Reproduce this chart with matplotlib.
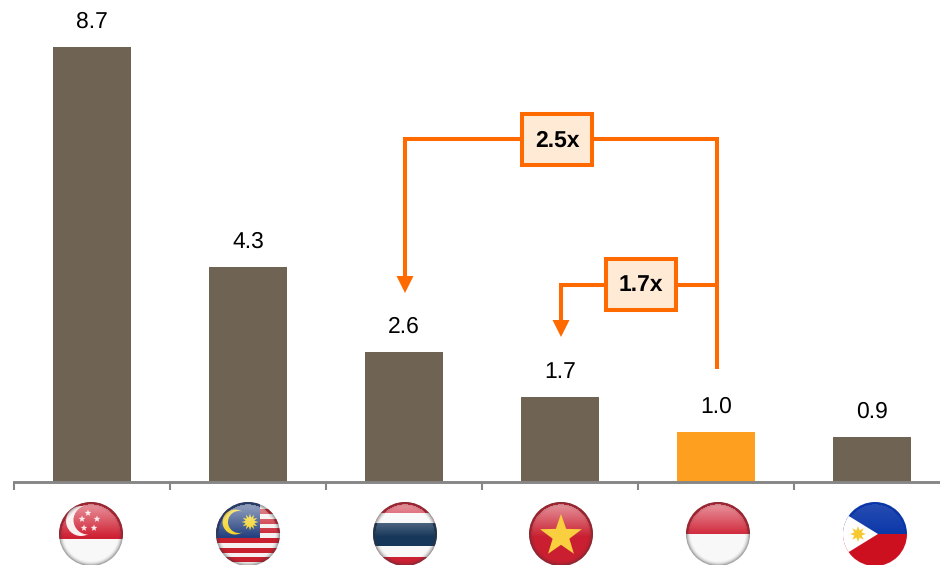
"""Bar chart of six country values, with multiple brackets and round flag badges."""

import matplotlib

matplotlib.use("Agg")

import matplotlib.pyplot as plt
import numpy as np
from matplotlib.patches import Circle, Polygon, Rectangle

plt.rcParams["font.family"] = ["Liberation Sans", "DejaVu Sans"]
plt.rcParams["text.hinting"] = "none"

countries = ["Singapore", "Malaysia", "Thailand", "Vietnam", "Indonesia", "Philippines"]
values = [8.7, 4.3, 2.6, 1.7, 1.0, 0.9]
highlight = "Indonesia"
multiples = ["2.5x", "1.7x"]

BROWN = "#6F6454"
AMBER = "#FF9F1F"
ORANGE = "#FF6A00"
AXIS_GREY = "#868686"
FLAG_R = 32
FLAG_Y = 534


def star_points(cx, cy, r_out, r_in, n=5, rot=-90):
    angles = np.radians(rot + np.arange(2 * n) * 180 / n)
    radii = np.where(np.arange(2 * n) % 2 == 0, r_out, r_in)
    return np.column_stack([cx + radii * np.cos(angles), cy + radii * np.sin(angles)])


def add_clipped(ax, clip, patch):
    ax.add_patch(patch)
    patch.set_clip_path(clip)
    return patch


def band(ax, clip, cx, y0, y1, color):
    add_clipped(ax, clip, Rectangle((cx - FLAG_R, y0), 2 * FLAG_R, y1 - y0, fc=color, ec="none"))


def draw_singapore(ax, clip, cx, cy):
    band(ax, clip, cx, cy - FLAG_R, cy + 5, "#CF2033")
    band(ax, clip, cx, cy + 5, cy + FLAG_R, "#F8F8F8")
    add_clipped(ax, clip, Circle((cx - 10, cy - 13), 15, fc="#FBEFEF", ec="none"))
    add_clipped(ax, clip, Circle((cx - 3, cy - 14), 14.5, fc="#CF2033", ec="none"))
    for dx, dy in [(-3, -21), (-9, -15), (6, -15), (-7, -6), (3, -6)]:
        add_clipped(ax, clip, Polygon(star_points(cx + dx, cy + dy, 3.5, 1.5), fc="#FBE4E6", ec="none"))


def draw_malaysia(ax, clip, cx, cy):
    band(ax, clip, cx, cy - FLAG_R, cy + FLAG_R, "#F6F0F0")
    for k in range(-3, 3):
        y0 = cy + 4 + k * 9.7
        band(ax, clip, cx, y0, y0 + 5, "#C8202F")
    add_clipped(ax, clip, Rectangle((cx - FLAG_R, cy - FLAG_R), FLAG_R + 12, 36, fc="#24407F", ec="none"))
    add_clipped(ax, clip, Circle((cx - 13, cy - 12), 12.5, fc="#F4D21F", ec="none"))
    add_clipped(ax, clip, Circle((cx - 9, cy - 12), 11, fc="#24407F", ec="none"))
    add_clipped(ax, clip, Polygon(star_points(cx + 2, cy - 12, 8.5, 4.5, n=12), fc="#F4D21F", ec="none"))


def draw_thailand(ax, clip, cx, cy):
    band(ax, clip, cx, cy - FLAG_R, cy + FLAG_R, "#CC2033")
    band(ax, clip, cx, cy - 21, cy + 23, "#F8F8F8")
    band(ax, clip, cx, cy - 11, cy + 12, "#17375A")


def draw_vietnam(ax, clip, cx, cy):
    band(ax, clip, cx, cy - FLAG_R, cy + FLAG_R, "#C91F30")
    star = Polygon(star_points(cx, cy + 2, 22, 8.8), fc="#F9CF3F", ec="none", zorder=3.5)
    add_clipped(ax, clip, star)


def draw_indonesia(ax, clip, cx, cy):
    band(ax, clip, cx, cy - FLAG_R, cy, "#CF2033")
    band(ax, clip, cx, cy, cy + FLAG_R, "#F8F8F8")


def draw_philippines(ax, clip, cx, cy):
    band(ax, clip, cx, cy - FLAG_R, cy, "#0A36A8")
    band(ax, clip, cx, cy, cy + FLAG_R, "#CC1020")
    add_clipped(
        ax,
        clip,
        Polygon([(cx - 36, cy - 24), (cx + 3, cy), (cx - 36, cy + 24)], fc="white", ec="none"),
    )
    add_clipped(ax, clip, Polygon(star_points(cx - 17, cy, 8, 4, n=8), fc="#F7C92E", ec="none"))


def add_gloss(ax, clip, cx, cy, sheen_amount=0.55, rim_amount=0.45):
    # Sheen on the upper half and a dark rim, each an RGBA layer over the flag.
    n = 2 * FLAG_R
    yy, xx = np.mgrid[-1:1:n * 1j, -1:1:n * 1j]
    rr = np.hypot(xx, yy)
    layers = [
        (1.0, np.clip(sheen_amount * (0.1 - yy) / 1.1, 0, 1) * (rr < 0.94)),
        (0.2, np.clip((rr - 0.84) / 0.16, 0, 1) ** 2 * rim_amount),
    ]
    for shade, alpha in layers:
        rgba = np.zeros((n, n, 4))
        rgba[..., :3] = shade
        rgba[..., 3] = alpha
        ax.imshow(
            rgba,
            extent=(cx - FLAG_R, cx + FLAG_R, cy + FLAG_R, cy - FLAG_R),
            zorder=3,
            clip_path=clip,
            interpolation="bilinear",
        )


def draw_bracket(ax, path, tip_w, tip_h):
    xs, ys = zip(*path)
    ax.plot(xs, ys, color=ORANGE, lw=2.9, solid_joinstyle="miter", solid_capstyle="butt", zorder=4)
    x_end, y_end = path[-1]
    ax.add_patch(
        Polygon(
            [(x_end - tip_w, y_end), (x_end + tip_w, y_end), (x_end, y_end + tip_h)],
            fc=ORANGE,
            ec="none",
            zorder=4,
        )
    )


def draw_badge(ax, x0, y0, w, h, label):
    ax.add_patch(Rectangle((x0, y0), w, h, fc="#FFEBD5", ec=ORANGE, lw=2.9, zorder=5))
    ax.text(
        x0 + w / 2,
        y0 + h / 2 + 1,
        label,
        ha="center",
        va="center",
        fontsize=16.5,
        fontweight="bold",
        color="black",
        zorder=6,
    )


fig = plt.figure(figsize=(9.4, 5.65), dpi=100, facecolor="white")

# bars: category spacing 156 px, 50 px per unit
ax = fig.add_axes([14 / 940, (565 - 482) / 565, 926 / 940, 482 / 565])
positions = np.arange(len(countries))
colors = [AMBER if c == highlight else BROWN for c in countries]
ax.bar(positions, values, width=0.5, color=colors, zorder=2)
for pos, val in zip(positions, values):
    ax.annotate(
        f"{val:.1f}",
        (pos, val),
        xytext=(0, 25),
        textcoords="offset pixels",
        ha="center",
        va="center",
        fontsize=16.5,
        color="black",
    )
ax.set_xlim(-0.5, 926 / 156 - 0.5)
ax.set_ylim(0, 9.64)
ax.set_yticks([])
ax.set_xticks(positions - 0.5)
ax.set_xticklabels([])
ax.tick_params(axis="x", length=5.5, width=1.5, color=AXIS_GREY)
for side in ("top", "left", "right"):
    ax.spines[side].set_visible(False)
ax.spines["bottom"].set_color(AXIS_GREY)
ax.spines["bottom"].set_linewidth(2.1)
ax.spines["bottom"].set_zorder(3)

# annotation layer in figure pixels
ov = fig.add_axes([0, 0, 1, 1], facecolor="none")
ov.set_axis_off()

draw_bracket(ov, [(717, 369), (717, 139), (405, 139), (405, 276)], 8.5, 17)
draw_bracket(ov, [(717, 285), (561, 285), (561, 320)], 8.5, 17)
draw_badge(ov, 522, 114, 70, 51, multiples[0])
draw_badge(ov, 606, 259, 70, 51, multiples[1])

flag_painters = [
    (91, draw_singapore, {}),
    (248, draw_malaysia, {}),
    (405, draw_thailand, {}),
    (561, draw_vietnam, {}),
    (718, draw_indonesia, {}),
    (875, draw_philippines, {"sheen_amount": 0.12, "rim_amount": 0.0}),
]
for cx, painter, gloss in flag_painters:
    clip = Circle((cx, FLAG_Y), FLAG_R, transform=ov.transData)
    painter(ov, clip, cx, FLAG_Y)
    add_gloss(ov, clip, cx, FLAG_Y, **gloss)

ov.set_xlim(0, 940)
ov.set_ylim(565, 0)
ov.set_aspect("auto")

fig.savefig("out.png", dpi=100, facecolor="white")
plt.close(fig)
